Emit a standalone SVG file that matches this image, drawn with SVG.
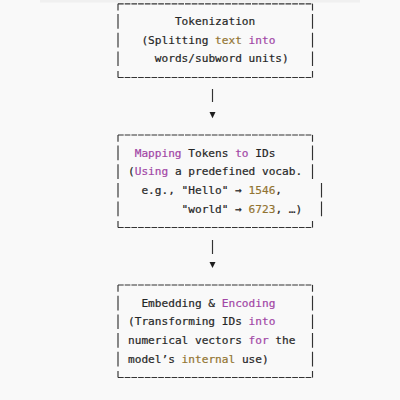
<svg xmlns="http://www.w3.org/2000/svg" width="400" height="400" viewBox="0 0 400 400">
<style>
.t{font-family:"DejaVu Sans Mono","Liberation Mono",monospace;font-size:11.13px;fill:#262626;stroke:#262626;stroke-width:0.2;white-space:pre}
.g{fill:#927431;stroke:#927431}
.p{fill:#a246a6;stroke:#a246a6}
.h{fill:none;stroke:#333;stroke-width:1.15;stroke-dasharray:5.7 1}
.v{fill:none;stroke:#333;stroke-width:1.15}
.a{fill:#1e1e1e}
</style>
<rect width="400" height="400" fill="#f9f9f9"/>
<rect x="40" y="0" width="320" height="2.5" fill="#f0f0f0"/>
<g id="node-tokenization">
<path class="h" d="M118 3.8H312.5M118 77.5H312.5"/>
<path class="v" d="M118 3.8V10.5M118 14V28.7M118 32.7V47.4M118 51.4V66.1M118 71V77.5M312.5 3.8V10.5M312.5 14V28.7M312.5 32.7V47.4M312.5 51.4V66.1M312.5 71V77.5"/>
<text class="t" x="174.9" y="25">Tokenization</text>
<text class="t" x="141.4" y="43.7">(Splitting <tspan class="g">text</tspan> <tspan class="p">into</tspan></text>
<text class="t" x="154.8" y="62.4">words/subword units)</text>
</g>
<g id="node-mapping">
<path class="h" d="M118 135H312.5M118 227.5H312.5"/>
<path class="v" d="M118 135V141.7M118 145.5V160.2M118 164.2V178.9M118 182.9V197.6M118 201.6V216.3M118 221V227.5M312.5 135V141.7M312.5 145.5V160.2M312.5 164.2V178.9M321.5 182.9V197.6M321.5 201.6V216.3M312.5 221V227.5"/>
<text class="t" x="134.7" y="156.5"><tspan class="p">Mapping</tspan> Tokens <tspan class="p">to</tspan> IDs</text>
<text class="t" x="128" y="175.2">(<tspan class="p">Using</tspan> a predefined vocab.</text>
<text class="t" x="141.4" y="193.9">e.g., "Hello" → <tspan class="g">1546</tspan>,</text>
<text class="t" x="181.6" y="212.6">"world" → <tspan class="g">6723</tspan>, …)</text>
</g>
<g id="node-embedding">
<path class="h" d="M118 285H312.5M118 377.5H312.5"/>
<path class="v" d="M118 285V291.7M118 295.7V310.4M118 314.4V329.1M118 333.1V347.8M118 351.8V366.5M118 371V377.5M312.5 285V291.7M312.5 295.7V310.4M312.5 314.4V329.1M312.5 333.1V347.8M312.5 351.8V366.5M312.5 371V377.5"/>
<text class="t" x="141.4" y="306.7">Embedding &amp; <tspan class="p">Encoding</tspan></text>
<text class="t" x="128" y="325.4">(Transforming IDs <tspan class="p">into</tspan></text>
<text class="t" x="128" y="344.1">numerical vectors <tspan class="p">for</tspan> the</text>
<text class="t" x="128" y="362.8">model’s <tspan class="g">internal</tspan> use)</text>
</g>
<g id="connectors">
<path class="v" d="M212.5 89V102M212.5 240V254"/>
<polygon class="a" points="209.5,112 215.5,112 212.5,118.3"/>
<polygon class="a" points="209.5,262 215.5,262 212.5,268"/>
</g>
</svg>
